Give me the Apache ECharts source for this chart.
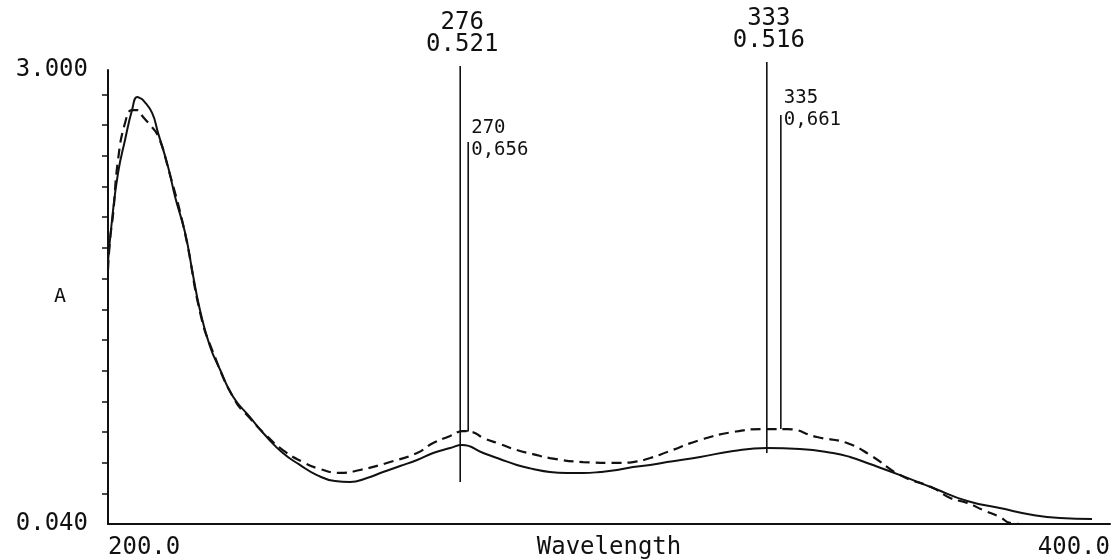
<!DOCTYPE html>
<html>
<head>
<meta charset="utf-8">
<script src="https://cdn.jsdelivr.net/npm/echarts@6/dist/echarts.min.js"></script>
<style>
  html, body { margin: 0; padding: 0; background: #fff; }
  #chart { width: 1115px; height: 560px; }
</style>
</head>
<body>
<div id="chart"></div>
<script>
// solid trace
const solidWl = [200.0, 200.8, 202.0, 203.4, 204.8, 205.8, 206.4, 207.0, 208.8, 210.0, 212.0, 213.4, 215.4, 217.0, 218.4, 220.4, 222.4, 225.0, 228.3, 231.7, 234.9, 238.3, 241.7, 245.3, 248.3, 251.7, 254.9, 258.3, 261.7, 264.9, 268.3, 270.7, 274.9, 278.2, 281.6, 284.8, 288.2, 291.6, 294.8, 298.2, 301.6, 304.8, 308.2, 311.6, 318.2, 324.8, 331.5, 338.1, 344.7, 348.1, 352.1, 358.1, 364.7, 371.5, 378.0, 384.6, 390.0, 396.4];
const solidAbs = [1.748, 2.022, 2.328, 2.544, 2.739, 2.824, 2.817, 2.804, 2.720, 2.589, 2.368, 2.172, 1.937, 1.657, 1.429, 1.194, 1.044, 0.868, 0.738, 0.607, 0.503, 0.425, 0.359, 0.320, 0.314, 0.340, 0.379, 0.418, 0.457, 0.503, 0.535, 0.555, 0.503, 0.464, 0.425, 0.399, 0.379, 0.373, 0.373, 0.379, 0.392, 0.412, 0.425, 0.444, 0.477, 0.516, 0.535, 0.529, 0.503, 0.477, 0.431, 0.359, 0.275, 0.190, 0.144, 0.099, 0.079, 0.073];

// dashed trace
const dashedWl = [200.0, 200.4, 201.0, 202.0, 203.4, 204.8, 205.8, 207.0, 208.4, 210.0, 212.0, 215.4, 218.4, 220.8, 225.3, 228.3, 231.7, 234.9, 238.9, 242.3, 246.3, 250.3, 256.3, 261.7, 264.9, 268.3, 270.9, 272.7, 274.9, 278.2, 281.6, 284.8, 288.2, 294.8, 301.6, 304.8, 308.2, 311.6, 318.2, 324.8, 331.5, 335.5, 341.5, 347.5, 352.1, 358.1, 364.7, 368.1, 371.5, 374.7, 378.0, 380.0, 382.0];
const dashedAbs = [1.696, 1.892, 2.055, 2.413, 2.654, 2.739, 2.739, 2.694, 2.641, 2.570, 2.361, 1.931, 1.416, 1.174, 0.848, 0.731, 0.614, 0.522, 0.444, 0.399, 0.373, 0.392, 0.444, 0.503, 0.568, 0.614, 0.646, 0.640, 0.601, 0.562, 0.522, 0.496, 0.470, 0.444, 0.438, 0.444, 0.470, 0.509, 0.588, 0.640, 0.659, 0.659, 0.607, 0.568, 0.490, 0.359, 0.275, 0.210, 0.177, 0.131, 0.086, 0.047, 0.040];

// peak markers (vertical lines drawn by the plotter)
const peakWl = ['276', '270', '333', '335'];
const peakAbs = ['0.521', '0,656', '0.516', '0,661'];
const markerWl = [270.3, 271.9, 331.5, 334.3];
const markerTop = [3.026, 2.531, 3.052, 2.707];
const markerBottom = [0.314, 0.646, 0.503, 0.659];
const markerFootWl = [270.3, 270.3, 331.5, 334.3];
const markerSide = ['top', 'right', 'top', 'right'];

// axis ticks / labels
const xLabels = [200, 400];
const yLabels = [0.04, 3.0];
const yTicks = [0.24, 0.44, 0.64, 0.84, 1.04, 1.24, 1.44, 1.64, 1.84, 2.04, 2.24, 2.44, 2.64, 2.84];

const font = '"DejaVu Sans Mono", "Liberation Mono", monospace';
const ink = '#111';

let chart = echarts.init(document.getElementById('chart'));

const pairs = (xs, ys) => xs.map((x, i) => [x, ys[i]]);

let series = [
  {
    name: 'solid',
    type: 'line',
    data: pairs(solidWl, solidAbs),
    showSymbol: false,
    smooth: 0.5,
    lineStyle: { color: ink, width: 2 },
    z: 3
  },
  {
    name: 'dashed',
    type: 'line',
    data: pairs(dashedWl, dashedAbs),
    showSymbol: false,
    smooth: 0.5,
    lineStyle: { color: ink, width: 2.2, type: [10, 6] },
    z: 3
  }
];

markerWl.forEach((wl, i) => {
  const big = markerSide[i] === 'top';
  series.push({
    type: 'line',
    clip: false,
    showSymbol: true,
    symbol: 'circle',
    symbolSize: 0,
    itemStyle: { color: ink },
    lineStyle: { color: ink, width: 1.6 },
    label: { show: false },
    data: [
      {
        value: [wl, markerTop[i]],
        label: {
          show: true,
          position: markerSide[i],
          distance: big ? 10 : 3,
          offset: big ? [2, 0] : [0, i === 1 ? -3 : -6],
          formatter: peakWl[i] + '\n' + peakAbs[i],
          align: big ? 'center' : 'left',
          color: ink,
          fontFamily: font,
          fontSize: big ? 24 : 19,
          lineHeight: 22
        }
      },
      [wl, markerBottom[i]],
      [markerFootWl[i], markerBottom[i]]
    ],
    z: 4
  });
});

let option = {
  animation: false,
  backgroundColor: '#fff',
  grid: { left: 108, right: 5, top: 70, bottom: 36, outerBoundsMode: 'none' },
  xAxis: {
    type: 'value',
    min: 200,
    max: 400,
    axisLine: { onZero: false, lineStyle: { color: ink, width: 2 } },
    axisTick: { show: false },
    splitLine: { show: false },
    axisLabel: {
      customValues: xLabels,
      formatter: v => v.toFixed(1),
      alignMinLabel: 'left',
      alignMaxLabel: 'right',
      color: ink,
      fontFamily: font,
      fontSize: 24,
      margin: 12
    },
    name: 'Wavelength',
    nameLocation: 'middle',
    nameGap: 12,
    nameMoveOverlap: false,
    nameTextStyle: { color: ink, fontFamily: font, fontSize: 24 }
  },
  yAxis: {
    type: 'value',
    min: 0.04,
    max: 3.0,
    axisLine: { show: true, onZero: false, lineStyle: { color: ink, width: 2 } },
    axisTick: { show: true, customValues: yTicks, length: 6, lineStyle: { color: ink, width: 1.5 } },
    splitLine: { show: false },
    axisLabel: {
      customValues: yLabels,
      formatter: v => v.toFixed(3),
      color: ink,
      fontFamily: font,
      fontSize: 24,
      margin: 20
    },
    name: 'A',
    nameLocation: 'middle',
    nameRotate: 0,
    nameGap: 42,
    nameMoveOverlap: false,
    nameTextStyle: { color: ink, fontFamily: font, fontSize: 20, padding: [12, 0, 0, 0] }
  },
  series: series
};

chart.setOption(option);
</script>
</body>
</html>
